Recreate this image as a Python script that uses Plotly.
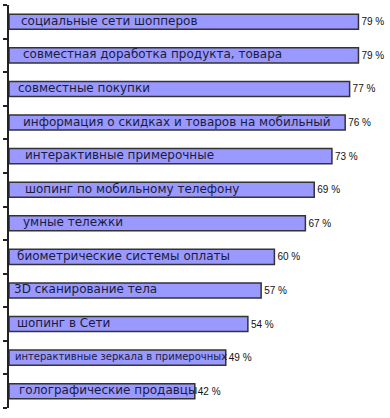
import plotly.graph_objects as go

categories = [
    "социальные сети шопперов",
    "совместная доработка продукта, товара",
    "совместные покупки",
    "информация о скидках и товаров на мобильный",
    "интерактивные примерочные",
    "шопинг по мобильному телефону",
    "умные тележки",
    "биометрические системы оплаты",
    "3D сканирование тела",
    "шопинг в Сети",
    "интерактивные зеркала в примерочных",
    "голографические продавцы",
]
values = [79, 79, 77, 76, 73, 69, 67, 60, 57, 54, 49, 42]

# style lists
name_offsets = [10, 12, 7, 12, 14, 14, 12, 6, 3, 6, 4, 8]
name_sizes = [12, 12, 12, 12, 12, 12, 12, 12, 12, 12, 10, 12]

ypos = list(range(len(categories)))

fig = go.Figure()
fig.add_trace(go.Bar(
    x=values, y=ypos, orientation="h",
    width=0.45,
    marker=dict(color="#9999FF", line=dict(color="#333333", width=1.5)),
    text=[f"{v} %" for v in values],
    textposition="outside",
    textfont=dict(family="Liberation Sans", size=10, color="#111111"),
    cliponaxis=False,
    hoverinfo="skip",
))

for i, (c, off, sz) in enumerate(zip(categories, name_offsets, name_sizes)):
    fig.add_annotation(
        x=0, y=i, xref="x", yref="y", text=c, showarrow=False,
        xanchor="left", yanchor="middle", xshift=off, yshift=1,
        font=dict(family="DejaVu Sans", size=sz, color="#1c1c3a"),
    )

fig.update_layout(
    width=390, height=418,
    margin=dict(l=5, r=5, t=5, b=10),
    paper_bgcolor="white", plot_bgcolor="white",
    showlegend=False,
    bargap=0.5,
)
fig.update_xaxes(range=[0, 85], visible=False)
fig.update_yaxes(
    range=[len(categories) - 0.5, -0.5],
    tickvals=[i - 0.5 for i in range(len(categories) + 1)],
    ticktext=[""] * (len(categories) + 1),
    ticks="outside", ticklen=4, tickcolor="#222222", tickwidth=1.5,
    showline=True, linecolor="#222222", linewidth=1.5,
    showgrid=False, zeroline=False,
)

fig.write_html("out.html")
